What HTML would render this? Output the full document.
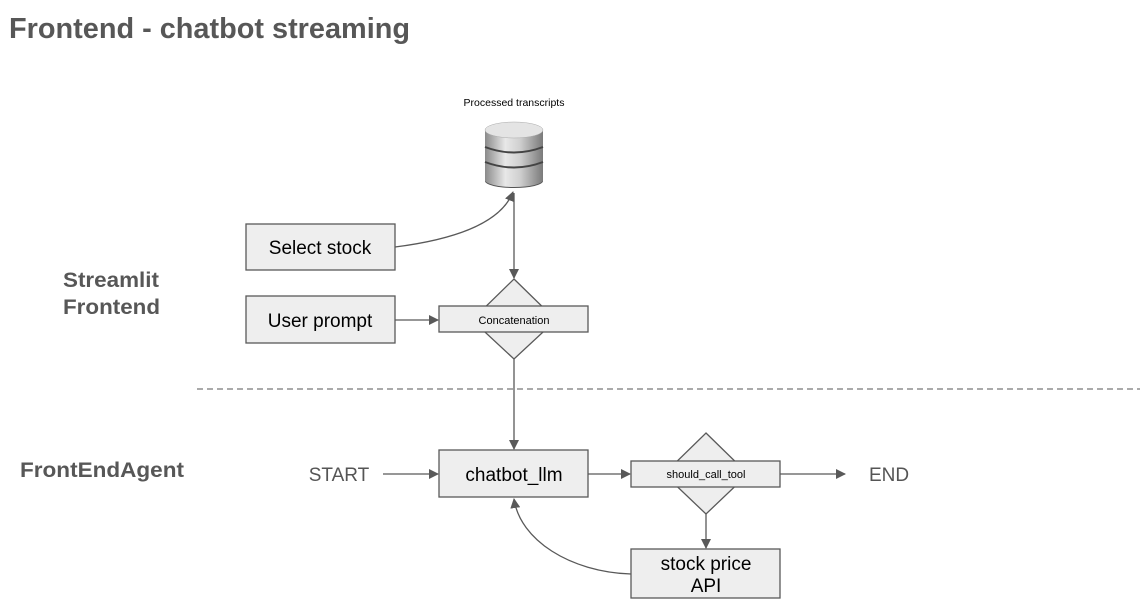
<!DOCTYPE html>
<html><head><meta charset="utf-8"><style>
html,body{margin:0;padding:0;background:#fff;}
svg{display:block;font-family:"Liberation Sans",Arial,sans-serif;}
</style></head><body>
<svg width="1145" height="601" viewBox="0 0 1145 601" xmlns="http://www.w3.org/2000/svg">
<defs>
<marker id="a" markerWidth="10" markerHeight="10" refX="9" refY="5" orient="auto" markerUnits="userSpaceOnUse">
<path d="M0,0 L10,5 L0,10 z" fill="#595959"/></marker>
<linearGradient id="cyl" x1="0" x2="1" y1="0" y2="0">
<stop offset="0" stop-color="#8a8a8a"/><stop offset="0.35" stop-color="#e8e8e8"/><stop offset="0.6" stop-color="#d0d0d0"/><stop offset="1" stop-color="#7a7a7a"/></linearGradient>
</defs>
<text x="9" y="38" font-size="28.5" font-weight="bold" fill="#575757" textLength="401" lengthAdjust="spacingAndGlyphs">Frontend - chatbot streaming</text>
<text x="63" y="287" font-size="21" font-weight="bold" fill="#575757" textLength="96" lengthAdjust="spacingAndGlyphs">Streamlit</text>
<text x="63" y="314" font-size="21" font-weight="bold" fill="#575757" textLength="97" lengthAdjust="spacingAndGlyphs">Frontend</text>
<text x="20" y="477" font-size="21" font-weight="bold" fill="#575757" textLength="164" lengthAdjust="spacingAndGlyphs">FrontEndAgent</text>
<text x="514" y="106" font-size="10.5" text-anchor="middle" fill="#000">Processed transcripts</text>
<!-- database -->
<ellipse cx="514" cy="181" rx="29" ry="7" fill="#555"/>
<rect x="485" y="130" width="58" height="50" fill="url(#cyl)"/>
<ellipse cx="514" cy="180" rx="29" ry="7" fill="url(#cyl)"/>
<path d="M485,147 Q514,158 543,147" stroke="#444" stroke-width="2" fill="none"/>
<path d="M485,162 Q514,173 543,162" stroke="#444" stroke-width="2" fill="none"/>
<ellipse cx="514" cy="130" rx="29" ry="8" fill="#e4e4e4" stroke="#aaa" stroke-width="0.5"/>
<!-- boxes -->
<g stroke="#595959" stroke-width="1.3" fill="#eeeeee">
<rect x="246" y="224" width="149" height="46"/>
<rect x="246" y="296" width="149" height="47"/>
<polygon points="514,279 556,320 514,359 472,320"/>
<rect x="439" y="306" width="149" height="26"/>
<rect x="439" y="450" width="149" height="47"/>
<polygon points="706,433 748,474 706,514 664,474"/>
<rect x="631" y="461" width="149" height="26"/>
<rect x="631" y="549" width="149" height="49"/>
</g>
<g font-size="19" fill="#000" text-anchor="middle">
<text x="320" y="254">Select stock</text>
<text x="320" y="327">User prompt</text>
<text x="514" y="481">chatbot_llm</text>
<text x="706" y="570">stock price</text>
<text x="706" y="592">API</text>
</g>
<text x="514" y="324" font-size="11" text-anchor="middle">Concatenation</text>
<text x="706" y="478" font-size="11" text-anchor="middle">should_call_tool</text>
<text x="339" y="481" font-size="19" text-anchor="middle" fill="#555">START</text>
<text x="889" y="481" font-size="19" text-anchor="middle" fill="#555">END</text>
<!-- connectors -->
<g stroke="#595959" stroke-width="1.3" fill="none">
<path d="M395,247 C450,240 500,225 513,192" marker-end="url(#a)"/>
<line x1="514" y1="193" x2="514" y2="278" marker-end="url(#a)"/>
<line x1="395" y1="320" x2="438" y2="320" marker-end="url(#a)"/>
<line x1="514" y1="359" x2="514" y2="449" marker-end="url(#a)"/>
<line x1="383" y1="474" x2="438" y2="474" marker-end="url(#a)"/>
<line x1="588" y1="474" x2="630" y2="474" marker-end="url(#a)"/>
<line x1="780" y1="474" x2="845" y2="474" marker-end="url(#a)"/>
<line x1="706" y1="514" x2="706" y2="548" marker-end="url(#a)"/>
<path d="M631,574 C570,572 520,540 514,499" marker-end="url(#a)"/>
<line x1="197" y1="389" x2="1140" y2="389" stroke-dasharray="6,4" stroke="#777"/>
</g>
</svg>
</body></html>
